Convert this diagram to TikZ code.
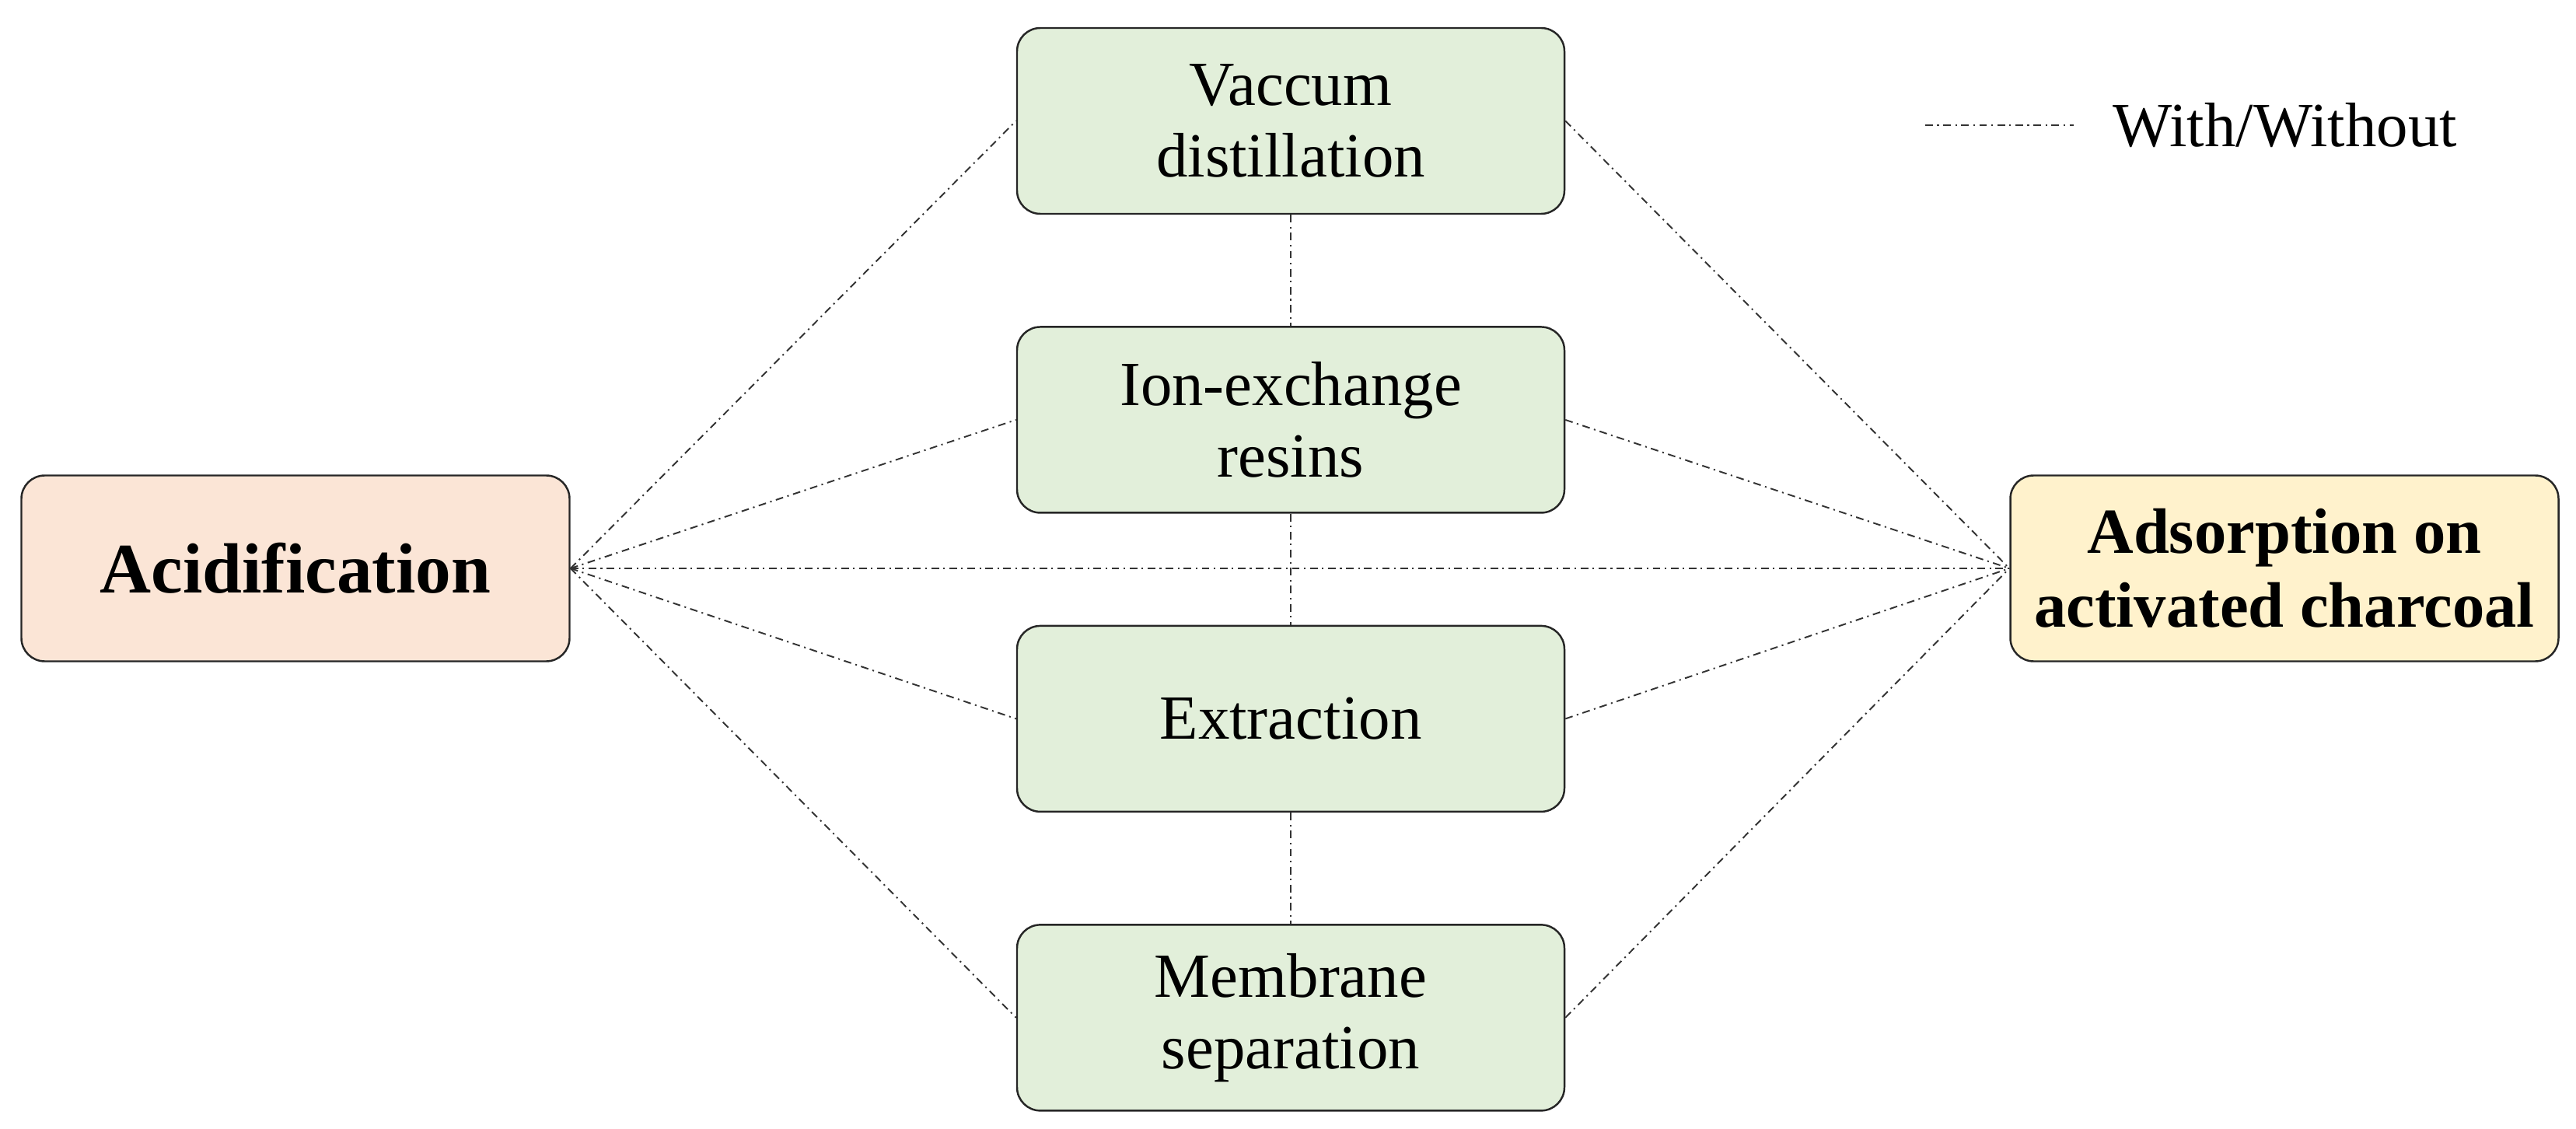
\documentclass[tikz,border=0pt]{standalone}
\usepackage{fontspec}
\setmainfont{Liberation Serif}
\usetikzlibrary{positioning}

\definecolor{methodfill}{HTML}{E2EFDA}
\definecolor{acidfill}{HTML}{FBE5D6}
\definecolor{adsorbfill}{HTML}{FFF2CC}

\begin{document}
\begin{tikzpicture}[
  every node/.style = {shape=rectangle, rounded corners=0.3cm,
    align=center},
  method/.style = {draw=black!85, line width=0.7pt, fill=methodfill,
    minimum width=7.04cm, minimum height=2.39cm,
    font=\fontsize{23}{26}\selectfont},
  endbox/.style = {draw=black!85, line width=0.7pt,
    minimum width=7.05cm, minimum height=2.39cm},
  withwo/.style = {line width=0.55pt, black!80,
    dash pattern=on 2.8pt off 1.6pt on 0.6pt off 1.6pt}]
  \useasboundingbox (0,0) rectangle (33.13,14.51);

  \node[method] (vac) at (16.60,12.955) {Vaccum\\distillation};
  \node[method, below=1.43cm of vac] (ion) {Ion-exchange\\resins};
  \node[method, below=1.43cm of ion] (ext) {Extraction};
  \node[method, below=1.43cm of ext] (mem) {Membrane\\separation};

  \node[endbox, fill=acidfill, font=\fontsize{26}{30}\selectfont\bfseries]
    (acid) at (3.80,7.20) {Acidification};
  \node[endbox, fill=adsorbfill, font=\fontsize{23.5}{27}\selectfont\bfseries]
    (ads) at (29.38,7.20) {Adsorption on\\activated charcoal};

  % legend
  \coordinate (legA) at (24.76,12.90);
  \coordinate (legB) at (26.67,12.90);
  \draw[withwo] (legA) -- (legB);
  \node[anchor=west, font=\fontsize{23}{26}\selectfont]
    (legtext) at (27.05,12.90) {With/Without};

  \foreach \m in {vac,ion,ext,mem} {
    \draw[withwo] (acid.east) -- (\m.west);
    \draw[withwo] (\m.east) -- (ads.west);
  }
  \draw[withwo] (acid.east) -- (ads.west);
  \draw[withwo] (vac) -- (ion);
  \draw[withwo] (ion) -- (ext);
  \draw[withwo] (ext) -- (mem);
\end{tikzpicture}
\end{document}
